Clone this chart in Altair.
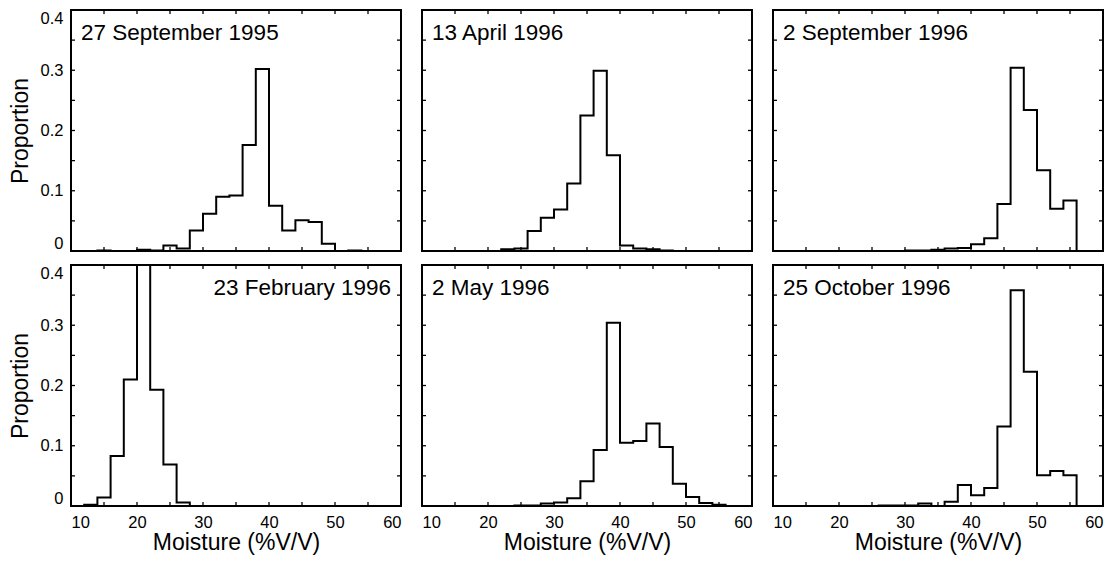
import altair as alt
import pandas as pd

# ---- data (bin width 2 %V/V, bins start at 10..58) ----
bin_left = list(range(10, 60, 2))
bin_right_end = 60

panel_titles = ["27 September 1995", "13 April 1996", "2 September 1996",
                "23 February 1996", "2 May 1996", "25 October 1996"]

sep95 = [0, 0, 0.001, 0, 0, 0.002, 0.001, 0.009, 0.004, 0.034, 0.062, 0.090, 0.092,
         0.176, 0.302, 0.075, 0.034, 0.051, 0.048, 0.012, 0, 0.001, 0, 0, 0]
apr96 = [0, 0, 0, 0, 0, 0, 0.003, 0.004, 0.033, 0.055, 0.069, 0.112, 0.225,
         0.299, 0.159, 0.009, 0.004, 0.003, 0.001, 0, 0, 0, 0, 0, 0]
sep96 = [0, 0, 0, 0, 0, 0, 0, 0, 0, 0, 0.001, 0.001, 0.002, 0.004, 0.005, 0.011,
         0.021, 0.078, 0.304, 0.234, 0.134, 0.070, 0.084, 0, 0]
feb96 = [0, 0.002, 0.014, 0.083, 0.210, 0.423, 0.193, 0.069, 0.006, 0, 0, 0, 0,
         0, 0, 0, 0, 0, 0, 0, 0, 0, 0, 0, 0]
may96 = [0, 0, 0, 0, 0, 0, 0, 0.001, 0.001, 0.004, 0.006, 0.013, 0.041, 0.093,
         0.304, 0.105, 0.108, 0.137, 0.098, 0.037, 0.015, 0.005, 0.002, 0, 0]
oct96 = [0, 0, 0, 0, 0, 0, 0, 0, 0.001, 0.001, 0.001, 0.004, 0, 0.007, 0.035,
         0.018, 0.030, 0.132, 0.358, 0.223, 0.051, 0.058, 0.051, 0, 0]

series = [sep95, apr96, sep96, feb96, may96, oct96]
label_right = [False, False, False, True, False, False]

x_tick_labels = [10, 20, 30, 40, 50, 60]
x_minor = [10, 15, 20, 25, 30, 35, 40, 45, 50, 55, 60]
y_tick_labels = [0, 0.1, 0.2, 0.3, 0.4]
y_minor = [0, 0.05, 0.1, 0.15, 0.2, 0.25, 0.3, 0.35, 0.4]

W, H = 330, 241
FONT = "Liberation Sans"
TICK_LEN = 4

xscale = alt.Scale(domain=[10, 60], nice=False, zero=False)
yscale = alt.Scale(domain=[0, 0.4], nice=False, zero=False)


def step_frame(vals):
    xs = [bin_left[0]] + bin_left + [bin_right_end]
    ys = [0] + list(vals) + [0]
    return pd.DataFrame({"moist": xs, "prop": ys, "i": list(range(len(xs)))})


def panel(idx):
    row, col = divmod(idx, 3)
    if row == 1:
        xaxis = alt.Axis(values=x_tick_labels, title="Moisture (%V/V)",
                         labelFontSize=16.5, labelPadding=8, titleFontSize=23,
                         titlePadding=1, domain=False, ticks=False, tickSize=0,
                         grid=False, labelFont=FONT, titleFont=FONT,
                         titleFontWeight="normal", labelColor="black",
                         titleColor="black")
    else:
        xaxis = None
    if col == 0:
        yaxis = alt.Axis(values=y_tick_labels, format="~g", title="Proportion",
                         labelFontSize=16.5, labelPadding=8, labelFlush=True,
                         titleFontSize=23, titlePadding=8, domain=False,
                         ticks=False, tickSize=0, grid=False, labelFont=FONT,
                         titleFont=FONT, titleFontWeight="normal",
                         labelColor="black", titleColor="black")
    else:
        yaxis = None

    line = alt.Chart(step_frame(series[idx])).mark_line(
        interpolate="step-after", color="black", strokeWidth=2, clip=True
    ).encode(
        x=alt.X("moist:Q", scale=xscale, axis=xaxis),
        y=alt.Y("prop:Q", scale=yscale, axis=yaxis),
        order=alt.Order("i:Q"),
    )

    xt = pd.DataFrame({"xt": x_minor})
    yt = pd.DataFrame({"yt": y_minor})
    xt_bottom = alt.Chart(xt).mark_rule(color="black", strokeWidth=1.3).encode(
        x=alt.X("xt:Q", scale=xscale, axis=xaxis),
        y=alt.value(H), y2=alt.value(H - TICK_LEN))
    xt_top = alt.Chart(xt).mark_rule(color="black", strokeWidth=1.3).encode(
        x=alt.X("xt:Q", scale=xscale, axis=xaxis),
        y=alt.value(0), y2=alt.value(TICK_LEN))
    yt_left = alt.Chart(yt).mark_rule(color="black", strokeWidth=1.3).encode(
        y=alt.Y("yt:Q", scale=yscale, axis=yaxis),
        x=alt.value(0), x2=alt.value(TICK_LEN))
    yt_right = alt.Chart(yt).mark_rule(color="black", strokeWidth=1.3).encode(
        y=alt.Y("yt:Q", scale=yscale, axis=yaxis),
        x=alt.value(W), x2=alt.value(W - TICK_LEN))

    lab = pd.DataFrame({"label": [panel_titles[idx]]})
    if label_right[idx]:
        text = alt.Chart(lab).mark_text(
            align="right", baseline="alphabetic", fontSize=22.5, font=FONT,
            color="black").encode(text="label:N", x=alt.value(W - 10),
                                  y=alt.value(30))
    else:
        text = alt.Chart(lab).mark_text(
            align="left", baseline="alphabetic", fontSize=22.5, font=FONT,
            color="black").encode(text="label:N", x=alt.value(10),
                                  y=alt.value(30))

    return alt.layer(line, xt_bottom, xt_top, yt_left, yt_right, text).properties(
        width=W, height=H)


chart = alt.concat(*[panel(i) for i in range(6)], columns=3,
                   spacing=alt.RowColnumber(row=14, column=21),
                   bounds="flush").properties(
    padding={"left": 0, "top": 0, "right": 2, "bottom": 2},
    background="white",
).configure_view(stroke="black", strokeWidth=2)

chart.save("out.html", embed_options={"renderer": "svg", "actions": False})
